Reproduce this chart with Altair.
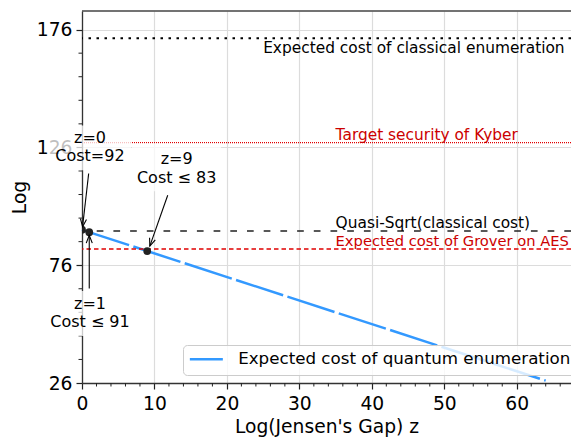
import altair as alt
import pandas as pd

# ---------------- data ----------------
Z_LINE = [0, 64]
COST_LINE = [91, 27]
Z_POINTS = [0, 1, 9]
COST_POINTS = [91.1, 90, 82]
CLASSICAL = 172.3
KYBER = 128
QUASI_SQRT = 90.5
GROVER = 82.9
LEGEND_LABEL = "Expected cost of quantum enumeration"
LINE_LABELS = [
    "Expected cost of classical enumeration",
    "Target security of Kyber",
    "Quasi-Sqrt(classical cost)",
    "Expected cost of Grover on AES",
]
ANNOT_Z0 = ["z=0", "Cost=92"]
ANNOT_Z9 = ["z=9", "Cost \u2264 83"]
ANNOT_Z1 = ["z=1", "Cost \u2264 91"]
X_MAJOR = [0, 10, 20, 30, 40, 50, 60]
X_MINOR = [2, 4, 6, 8, 12, 14, 16, 18, 22, 24, 26, 28, 32, 34, 36, 38,
           42, 44, 46, 48, 52, 54, 56, 58, 62, 64, 66]
Y_MAJOR = [26, 76, 126, 176]
Y_MINOR = [36, 46, 56, 66, 86, 96, 106, 116, 136, 146, 156, 166]

# ---------------- styling ----------------
W, H = 489, 372
BLUE = "#3399ff"
RED_TEXT = "#cc0000"
RED_LINE = "#e00000"
FONT = "DejaVu Sans"
CHEVRON = "M-0.35,0.9L0,0L0.35,0.9"
TICK_COLOR = "#222222"

x_scale = alt.Scale(domain=[0, 67.49], nice=False, zero=False)
y_scale = alt.Scale(domain=[26, 183.9], nice=False, zero=False)


def xd(v):
    return alt.XDatum(v, scale=x_scale)


def yd(v):
    return alt.YDatum(v, scale=y_scale)


common_axis = dict(
    titleFontSize=18.7, titleFontWeight="normal", titleColor="black",
    titleBaseline="alphabetic",
    labelFontSize=18.7, labelColor="black",
    labelFlush=False, labelOverlap=False,
    tickColor=TICK_COLOR, tickSize=6, tickWidth=1.2,
    domainColor="#333333", domainWidth=1.3,
    grid=True, gridColor="#dcdcdc", gridWidth=1.2,
)
x_axis = alt.Axis(values=X_MAJOR, title="Log(Jensen's Gap) z", titleY=49.6,
                  labelPadding=5, **common_axis)
y_axis = alt.Axis(values=Y_MAJOR, title="Log", titleAlign="center", titleAngle=270,
                  titleX=-57, titleY=H / 2, labelPadding=4, **common_axis)

one = pd.DataFrame({"a": [0]})


def hline(val, color, dash, width):
    return alt.Chart(one).mark_rule(color=color, strokeDash=dash, strokeWidth=width).encode(
        y=yd(val))


def text(txt, xv, yv, color, size, align="left", dy=0):
    return alt.Chart(pd.DataFrame({"t": [txt]})).mark_text(
        align=align, baseline="alphabetic", fontSize=size, color=color, dy=dy, font=FONT
    ).encode(x=xd(xv), y=yd(yv), text="t:N")


def box(x1, x2, y1, y2):
    return alt.Chart(one).mark_rect(color="white", opacity=0.75).encode(
        x=xd(x1), x2=alt.datum(x2), y=yd(y1), y2=alt.datum(y2))


def arrow(x1, y1, x2, y2, angle):
    shaft = alt.Chart(one).mark_rule(color="black", strokeWidth=1.1).encode(
        x=xd(x1), y=yd(y1), x2=alt.datum(x2), y2=alt.datum(y2))
    head = alt.Chart(one).mark_point(
        shape=CHEVRON, size=300, angle=angle, filled=False, color="black",
        strokeWidth=1.1, opacity=1
    ).encode(x=xd(x2), y=yd(y2))
    return shaft + head


line_df = pd.DataFrame({"z": Z_LINE, "cost": COST_LINE, "series": [LEGEND_LABEL] * len(Z_LINE)})
pts_df = pd.DataFrame({"z": Z_POINTS, "cost": COST_POINTS})

quantum = alt.Chart(line_df).mark_line(strokeWidth=2.5, strokeDash=[49.5, 4.5]).encode(
    x=alt.X("z:Q", scale=x_scale, axis=x_axis),
    y=alt.Y("cost:Q", scale=y_scale, axis=y_axis),
    color=alt.Color(
        "series:N",
        scale=alt.Scale(domain=[LEGEND_LABEL], range=[BLUE]),
        legend=alt.Legend(
            title=None, orient="none", legendX=101, legendY=334,
            symbolType="M-1.5,0L5.1,0", symbolSize=100, symbolStrokeWidth=2.5,
            symbolStrokeColor=BLUE,
            labelFontSize=16.7, labelFont=FONT, labelColor="black", labelLimit=1000,
            labelOffset=32.5, padding=6,
            fillColor="rgba(255,255,255,0.8)", strokeColor="#cccccc", cornerRadius=4,
        ),
    ),
)

points = alt.Chart(pts_df).mark_circle(size=60, color="#222222", opacity=1, clip=True).encode(
    x=alt.X("z:Q", scale=x_scale), y=alt.Y("cost:Q", scale=y_scale))

x_minor = alt.Chart(pd.DataFrame({"v": X_MINOR})).mark_rule(color=TICK_COLOR, strokeWidth=1).encode(
    x=alt.X("v:Q", scale=x_scale), y=alt.value(H), y2=alt.value(H + 3.5))
y_minor = alt.Chart(pd.DataFrame({"v": Y_MINOR})).mark_rule(color=TICK_COLOR, strokeWidth=1).encode(
    y=alt.Y("v:Q", scale=y_scale), x=alt.value(0), x2=alt.value(-3.5))

top_spine = alt.Chart(one).mark_rule(color="#444444", strokeWidth=1.3).encode(
    x=alt.value(0), x2=alt.value(W), y=alt.value(0))

layers = [
    quantum,
    x_minor,
    y_minor,
    hline(CLASSICAL, "black", [2.5, 5.5], 2),
    hline(KYBER, RED_LINE, [1, 1], 1.2),
    hline(QUASI_SQRT, "#222222", [6.7, 10], 1.5),
    hline(GROVER, RED_LINE, [4.5, 3], 1.5),
    points,
    text(LINE_LABELS[0], 25, 166.1, "black", 15.4),
    text(LINE_LABELS[1], 35, 129.0, RED_TEXT, 15.4),
    text(LINE_LABELS[2], 35, 91.96, "black", 15.4),
    text(LINE_LABELS[3], 35, 84.15, RED_TEXT, 14.7),
    box(-4.55, 6.76, 135.3, 116.3),
    box(6.90, 19.19, 127.7, 107.4),
    box(-5.11, 7.18, 65.0, 45.9),
    arrow(0.92, 114.9, 0.08, 92.3, 186.5),
    arrow(11.83, 105.7, 9.36, 84.1, 199.6),
    arrow(1.0, 66.1, 1.0, 88.7, 0),
    text(ANNOT_Z0[0], 1.1, 127.9, "black", 16, "center"),
    text(ANNOT_Z0[1], 1.1, 127.9, "black", 16, "center", 18),
    text(ANNOT_Z9[0], 13.07, 119.1, "black", 16, "center"),
    text(ANNOT_Z9[1], 13.07, 119.1, "black", 16, "center", 19),
    text(ANNOT_Z1[0], 1.1, 57.2, "black", 16, "center"),
    text(ANNOT_Z1[1], 1.1, 57.2, "black", 16, "center", 18),
    top_spine,
]

chart = alt.layer(*layers).properties(
    width=W, height=H,
    autosize=alt.AutoSizeParams(type="none"),
    padding={"left": 74, "top": 3, "right": 0, "bottom": 55},
).configure(font=FONT).configure_view(stroke=None)

chart.save("out.html", embed_options={"renderer": "svg", "actions": False})
